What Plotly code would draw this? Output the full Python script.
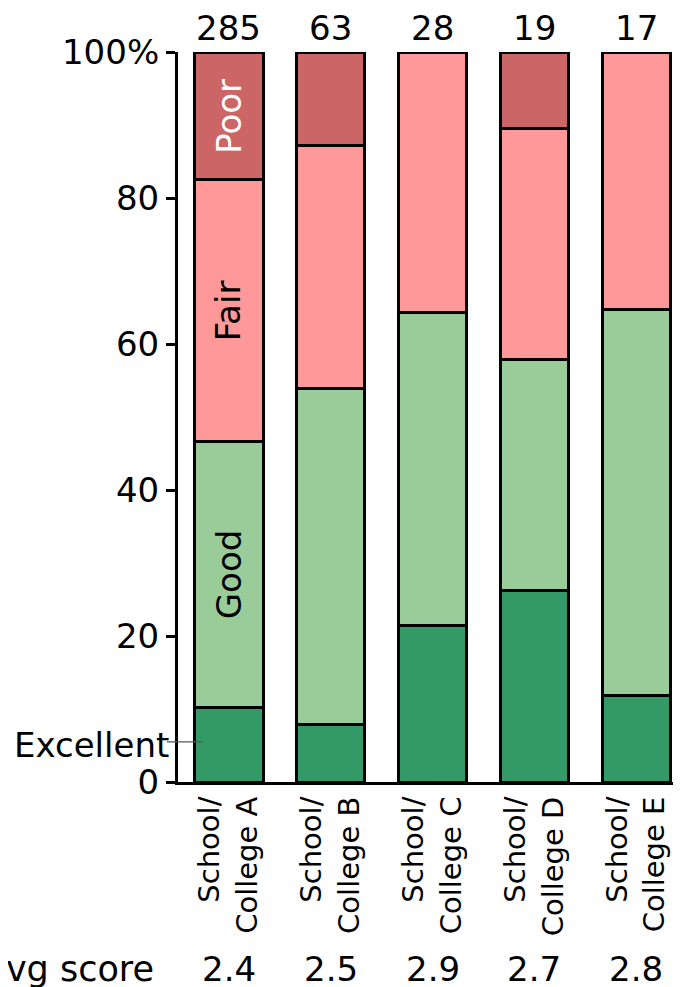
import plotly.graph_objects as go

categories = ["School/<br>College A", "School/<br>College B", "School/<br>College C",
              "School/<br>College D", "School/<br>College E"]
counts = [285, 63, 28, 19, 17]
avg_scores = ["2.4", "2.5", "2.9", "2.7", "2.8"]

excellent = [10.2, 7.9, 21.4, 26.3, 11.8]
good = [36.5, 46.0, 42.9, 31.6, 52.9]
fair = [35.8, 33.3, 35.7, 31.6, 35.3]
poor = [17.5, 12.7, 0.0, 10.5, 0.0]

series = [("Excellent", excellent, "#339966"),
          ("Good", good, "#99cc99"),
          ("Fair", fair, "#ff9999"),
          ("Poor", poor, "#cc6666")]

FONT = "DejaVu Sans"
BIG = 34
x_idx = list(range(len(categories)))

fig = go.Figure()
for name, vals, col in series:
    fig.add_trace(go.Bar(x=x_idx, y=vals, name=name, width=0.67,
                         marker=dict(color=col, line=dict(color="black", width=3))))

ann = []
for i, c in enumerate(counts):
    ann.append(dict(x=i, y=100, xref="x", yref="y", text=str(c), showarrow=False,
                    yanchor="bottom", yshift=2, font=dict(size=BIG, color="black", family=FONT)))
for i, s in enumerate(avg_scores):
    ann.append(dict(x=i, y=-0.256, xref="x", yref="paper", text=s, showarrow=False,
                    yanchor="middle", font=dict(size=BIG, color="black", family=FONT)))
ann.append(dict(x=-0.044, y=-0.256, xref="paper", yref="paper", text="Avg score", showarrow=False,
                xanchor="right", yanchor="middle", font=dict(size=35, color="black", family=FONT)))

# segment labels inside first bar
cum = 0
for name, vals, col in series:
    v = vals[0]
    mid = cum + v / 2
    cum += v
    if name == "Excellent":
        ann.append(dict(x=-0.013, y=mid, xref="paper", yref="y", text="Excellent", showarrow=False,
                        xanchor="right", yanchor="middle",
                        font=dict(size=BIG, color="black", family=FONT)))
        continue
    ann.append(dict(x=0, y=mid, xref="x", yref="y", text=name, showarrow=False, textangle=-90,
                    font=dict(size=BIG, color="white" if name == "Poor" else "black", family=FONT)))

fig.add_shape(type="line", xref="paper", yref="y", x0=-0.022, x1=0.05,
              y0=5.5, y1=5.5, line=dict(color="#555555", width=1.2))

fig.update_layout(
    barmode="stack",
    width=673, height=979,
    margin=dict(l=170, r=0, t=44, b=205),
    paper_bgcolor="white", plot_bgcolor="white",
    showlegend=False,
    annotations=ann,
    font=dict(family=FONT, color="black"),
    xaxis=dict(range=[-0.5, 4.44], tickvals=x_idx, ticktext=categories, tickangle=-90,
               showline=True, linecolor="black", linewidth=3, ticks="",
               showgrid=False, zeroline=False, tickfont=dict(size=29, family=FONT)),
    yaxis=dict(range=[0, 100], tickvals=[0, 20, 40, 60, 80, 100],
               ticktext=["0", "20", "40", "60", "80", "100%"],
               showline=True, linecolor="black", linewidth=3, ticks="outside",
               ticklen=9, tickwidth=3, tickcolor="black",
               showgrid=False, zeroline=False, tickfont=dict(size=BIG, family=FONT)),
)

fig.write_html("out.html")
